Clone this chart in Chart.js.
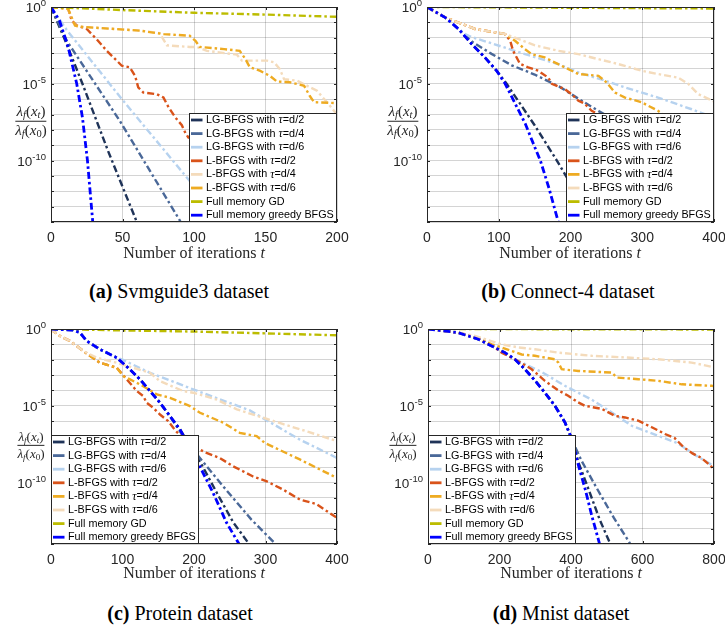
<!DOCTYPE html>
<html>
<head>
<meta charset="utf-8">
<script src="https://cdn.jsdelivr.net/npm/chart.js@4.4.1/dist/chart.umd.min.js"></script>
<style>
  html, body { margin: 0; padding: 0; background: #fff; }
  #page { position: relative; width: 725px; height: 627px; overflow: hidden; background: #fff; }
  canvas { position: absolute; }
  .txt { position: absolute; z-index: 2; transform: translate(-50%, -50%); white-space: nowrap;
         font-family: "Liberation Serif", "DejaVu Serif", serif; }
  .xt { font-size: 16px; color: #262626; }
  .cap { font-size: 20px; color: #000; }
  .frac { display: flex; flex-direction: column; align-items: center; color: #262626; line-height: 1.05; }
  .frac .num { border-bottom: 1px solid #262626; padding: 0 1px 1px; }
  .frac .den { padding: 1px 1px 0; }
  .frac sub { font-size: 0.7em; vertical-align: -0.25em; line-height: 0; }
</style>
</head>
<body>
<div id="page">
  <div class="txt frac" style="left:31px;top:121px;font-size:15px"><span class="num"><i>λ<sub>f</sub></i>(<i>x<sub>t</sub></i>)</span><span class="den"><i>λ<sub>f</sub></i>(<i>x</i><sub>0</sub>)</span></div>
  <div class="txt frac" style="left:403px;top:121px;font-size:15px"><span class="num"><i>λ<sub>f</sub></i>(<i>x<sub>t</sub></i>)</span><span class="den"><i>λ<sub>f</sub></i>(<i>x</i><sub>0</sub>)</span></div>
  <div class="txt frac" style="left:31px;top:445px;font-size:13px"><span class="num"><i>λ<sub>f</sub></i>(<i>x<sub>t</sub></i>)</span><span class="den"><i>λ<sub>f</sub></i>(<i>x</i><sub>0</sub>)</span></div>
  <div class="txt frac" style="left:403px;top:445px;font-size:13px"><span class="num"><i>λ<sub>f</sub></i>(<i>x<sub>t</sub></i>)</span><span class="den"><i>λ<sub>f</sub></i>(<i>x</i><sub>0</sub>)</span></div>

  <div class="txt xt" style="left:194px;top:253px">Number of iterations <i>t</i></div>
  <div class="txt xt" style="left:570px;top:253px">Number of iterations <i>t</i></div>
  <div class="txt xt" style="left:194px;top:573px">Number of iterations <i>t</i></div>
  <div class="txt xt" style="left:571px;top:573px">Number of iterations <i>t</i></div>

  <div class="txt cap" style="left:179px;top:291px"><b>(a)</b> Svmguide3 dataset</div>
  <div class="txt cap" style="left:568px;top:291px"><b>(b)</b> Connect-4 dataset</div>
  <div class="txt cap" style="left:180px;top:613px"><b>(c)</b> Protein dataset</div>
  <div class="txt cap" style="left:561px;top:613px"><b>(d)</b> Mnist dataset</div>
</div>

<script>
// shared axis values
const yGridValues = [1, 1e-1, 1e-2, 1e-3, 1e-4, 1e-5, 1e-6, 1e-7, 1e-8, 1e-9, 1e-10, 1e-11, 1e-12, 1e-13, 1e-14]
const yLabelValues = [1, 1e-5, 1e-10]
const yLabelExps = ['0', '-5', '-10']
const seriesLabels = [
    'LG-BFGS with τ=d/2', 'LG-BFGS with τ=d/4', 'LG-BFGS with τ=d/6',
    'L-BFGS with τ=d/2', 'L-BFGS with τ=d/4', 'L-BFGS with τ=d/6',
    'Full memory GD', 'Full memory greedy BFGS'
]

/* ---------------- (a) Svmguide3 : [iteration, ratio] ---------------- */
const svmTicks = [0, 50, 100, 150, 200]
const svmLG2 = [[0,1],[10,6.3e-3],[22,1e-5],[40,4e-10],[60,1e-14],[65,1e-15]]
const svmLG4 = [[0,1],[11,6.3e-3],[48,4e-8],[90,1.3e-14],[96,1e-15]]
const svmLG6 = [[0,1],[11,3.2e-2],[50,8.9e-7],[99,2.8e-12],[125,5e-15]]
const svmL2 = [[0,1],[12,0.79],[14.5,0.126],[18,6.3e-2],[25,3.7e-2],[32,7.9e-3],[39,1.4e-3],[46,3.2e-4],[49.5,1.5e-4],[55,1.2e-4],[58.8,3.3e-5],[61,5.8e-6],[64.6,2.7e-6],[74,2.1e-6],[78.6,1.3e-6],[82,3.2e-7],[87,6.3e-8],[91.5,2e-8],[94,6.3e-9],[96,3.2e-9],[100,2.5e-9],[130,1e-10],[200,3.2e-13]]
const svmL4 = [[0,1],[12,0.74],[16.8,6.3e-2],[20,5.2e-2],[62,2.9e-2],[76,2e-2],[81,3.2e-3],[97,2.5e-3],[102,2.5e-3],[109,1.4e-3],[130,7.9e-4],[133.5,3.2e-4],[151,3.2e-4],[156,2.5e-4],[160,9.1e-5],[163,2e-5],[172,1.6e-5],[186,3.5e-6],[193,6.3e-7],[198,1.7e-7],[201,8e-8]]
const svmL6 = [[0,1],[12,0.74],[16.8,6.3e-2],[20,5.2e-2],[62,2.9e-2],[79,1.7e-2],[97,1.35e-2],[101,6.3e-3],[104,2.5e-3],[121,1.8e-3],[132,1.4e-3],[136,4e-4],[139,1.2e-4],[146,7.1e-5],[153,3.3e-5],[158,1.4e-5],[167,1.26e-5],[177,7.4e-6],[181,1.6e-6],[184,6.3e-7],[200,5.5e-7]]
const svmGD = [[0,1],[50,0.63],[100,0.42],[150,0.32],[200,0.23]]
const svmGR = [[0,1],[6,0.126],[12,2.5e-3],[18,1e-5],[22,6.3e-8],[25.5,1e-10],[29.2,1e-14],[31,1e-16]]

/* ---------------- (b) Connect-4 ---------------- */
const conTicks = [0, 100, 200, 300, 400]
const conLG2 = [[0,1],[25,0.214],[44,3.7e-2],[62,4e-3],[81,5e-4],[97,7.1e-5],[111,1e-5],[150,2e-8],[181,1e-10],[200,3.2e-12],[250,1e-15]]
const conLG4 = [[0,1],[25,0.214],[44,3.7e-2],[64,5e-3],[90,8.9e-4],[118,1.6e-4],[150,4e-5],[185,6.3e-6],[212,1e-6],[240,1.6e-7],[270,2.5e-8],[400,1e-11]]
const conLG6 = [[0,1],[25,0.214],[44,3.7e-2],[53,1.74e-2],[62,1.12e-2],[90,4.3e-3],[136.6,8.5e-4],[183,1.9e-4],[211,5.5e-5],[248,1.6e-5],[276,5.8e-6],[322,1.26e-6],[369,2.2e-7],[387,1.05e-7],[400,6.3e-8]]
const conL2 = [[0,1],[25,0.214],[67,3.7e-2],[108.7,1.74e-2],[116,6.3e-3],[120,1.4e-3],[129.6,2e-4],[141,1.17e-4],[155,7.1e-5],[169,2.5e-5],[174,1e-5],[192,4.5e-6],[201.6,2.1e-6],[211,7.9e-7],[220,5e-7],[229.5,1.74e-7],[239,1.05e-7],[260,2.5e-8],[400,1e-11]]
const conL4 = [[0,1],[25,0.214],[67,3.7e-2],[108.7,1.74e-2],[122.7,6.3e-3],[136.6,1.8e-3],[146,8.5e-4],[164,5.2e-4],[192,1.17e-4],[211,4.3e-5],[239,3.3e-5],[250,1.26e-5],[262,2.7e-6],[276,1.26e-6],[299,6.3e-7],[322,1.74e-7],[332,7.9e-8],[400,3.2e-9]]
const conL6 = [[0,1],[25,0.214],[67,3.7e-2],[108.7,1.74e-2],[122.7,1e-2],[150.5,3.2e-3],[183,1.4e-3],[211,8.5e-4],[239,4e-4],[267,1.9e-4],[299,7.1e-5],[322,4.3e-5],[350,2.5e-5],[364,1e-5],[378,2.1e-6],[400,7.1e-7]]
const conGD = [[0,1],[200,0.89],[400,0.8]]
const conGR = [[0,1],[25,0.214],[44,3.7e-2],[62,4e-3],[81,5e-4],[97,7.1e-5],[109,1e-5],[123,5e-7],[137,2.5e-8],[150,7.9e-10],[158,1e-10],[170,1.6e-12],[183,1e-14],[190,1e-15]]

/* ---------------- (c) Protein ---------------- */
const proTicks = [0, 100, 200, 300, 400]
const proLG2 = [[0,1],[31,0.85],[40.5,0.575],[50,0.166],[68.5,4.7e-2],[92,1.35e-2],[110.5,2.3e-3],[124.5,5.2e-4],[138.5,9.1e-5],[152.4,1.58e-5],[166.4,2.1e-6],[180.4,2.9e-7],[212,1.15e-9],[232,2.1e-11],[255,2.5e-13],[277,1e-14],[285,2e-15]]
const proLG4 = [[0,1],[31,0.85],[40.5,0.575],[50,0.166],[68.5,4.7e-2],[92,1.35e-2],[110.5,2.3e-3],[124.5,5.2e-4],[138.5,9.1e-5],[152.4,1.58e-5],[166.4,2.1e-6],[185,1e-7],[203,7.9e-9],[240,6.3e-11],[280,4e-13],[314,1e-14],[322,3.2e-15]]
const proLG6 = [[0,1],[31,0.85],[40.5,0.575],[50,0.166],[68.5,4.7e-2],[92,1.35e-2],[100,1e-2],[138.5,1.4e-3],[199,1.17e-4],[278,5e-6],[300,1.26e-6],[348,6.3e-8],[400,4e-9]]
const proL2 = [[0,1],[3,0.74],[12.6,0.35],[26.6,0.166],[36,7.9e-2],[45,3.7e-2],[68.5,6.3e-3],[92,3e-3],[106,5.2e-4],[120,9.1e-5],[129,4.3e-5],[133.8,1.58e-5],[143,7.4e-6],[152.4,2.7e-6],[164,1e-6],[171,3.7e-7],[175.8,2e-7],[189.5,5e-8],[203.5,1.8e-8],[217.5,8.5e-9],[236,4e-9],[254.7,1.15e-9],[282.6,2.5e-10],[301,1.26e-10],[324.5,3.5e-11],[348,7.9e-12],[371,4e-12],[400,5e-13]]
const proL4 = [[0,1],[3,0.74],[12.6,0.35],[26.6,0.166],[36,7.9e-2],[45,3.7e-2],[68.5,6.3e-3],[92,3e-3],[101,8.5e-4],[110.5,5.2e-4],[129,1.9e-4],[148,5.5e-5],[166.4,3.3e-5],[194.4,9.5e-6],[208.4,3.5e-6],[241,7.9e-7],[264,1.74e-7],[287.6,1.05e-7],[299,3.8e-8],[348,3.2e-9],[400,2e-10]]
const proL6 = [[0,1],[3,0.74],[12.6,0.35],[26.6,0.166],[36,7.9e-2],[45,3.7e-2],[64,1.35e-2],[92,6.3e-3],[106,4e-3],[138.5,1.4e-3],[152.4,4e-4],[185,9.1e-5],[199,7.1e-5],[232,2.5e-5],[260,5.8e-6],[297,1.66e-6],[325,6.3e-7],[360,2e-7],[400,5e-8]]
const proGD = [[0,1],[100,0.81],[200,0.68],[300,0.52],[400,0.39]]
const proGR = [[0,1],[31,0.85],[40.5,0.575],[50,0.166],[68.5,4.7e-2],[92,1.35e-2],[110.5,2.3e-3],[124.5,5.2e-4],[138.5,9.1e-5],[152.4,1.58e-5],[166.4,2.1e-6],[180.4,2.9e-7],[208,1.15e-9],[226.8,2.1e-11],[245.4,2.5e-13],[263,1e-14],[270,2e-15]]

/* ---------------- (d) Mnist ---------------- */
const mniTicks = [0, 200, 400, 600, 800]
const mniLG2 = [[0,1],[85,0.575],[141,0.214],[178,7.9e-2],[215,2.9e-2],[243,1.07e-2],[271,2.4e-3],[299,4.5e-4],[327,7.1e-5],[355,1e-5],[383,8.3e-7],[403,6.3e-8],[421,2e-9],[450,3.2e-11],[480,4e-13],[510,1e-14],[520,2.5e-15]]
const mniLG4 = [[0,1],[85,0.575],[141,0.214],[178,7.9e-2],[215,2.9e-2],[243,1.07e-2],[271,2.4e-3],[299,4.5e-4],[327,7.1e-5],[355,1e-5],[383,8.3e-7],[403,6.3e-8],[410,2.5e-8],[430,2.5e-9],[468,6.3e-11],[520,5e-13],[566,1e-14],[580,2.5e-15]]
const mniLG6 = [[0,1],[85,0.575],[141,0.214],[178,7.9e-2],[215,2.9e-2],[243,1.07e-2],[318,1.58e-3],[383,2e-4],[458,2.5e-5],[514,3.7e-6],[570,5e-7],[626,1.6e-7],[700,3.5e-8],[747,6.3e-9],[800,1.15e-9]]
const mniL2 = [[0,1],[85,0.575],[141,0.251],[178,8.9e-2],[206,2.9e-2],[253,7.9e-3],[290,2.4e-3],[327,4.2e-4],[365,1e-4],[392,4.5e-5],[420,1.66e-5],[439,1e-5],[486,6.3e-6],[523,2.2e-6],[551,1.74e-6],[588,1.07e-6],[626,4e-7],[663,1.45e-7],[690,7.9e-8],[715,2e-8],[740,7.9e-9],[765,4e-9],[790,1.26e-9],[800,7.1e-10]]
const mniL4 = [[0,1],[85,0.575],[131,0.316],[178,0.1],[206,6.3e-2],[262,2.2e-2],[299,1.8e-2],[355,1.07e-2],[364.6,6.5e-3],[374,2.4e-3],[420,1.86e-3],[514,1.45e-3],[528,6.9e-4],[588,5.4e-4],[644,4.2e-4],[710,2.5e-4],[793,2e-4],[800,1.9e-4]]
const mniL6 = [[0,1],[85,0.575],[131,0.355],[206,0.1],[253,6.3e-2],[299,4.8e-2],[364.6,2.9e-2],[458,1.8e-2],[551,1.4e-2],[644,1.07e-2],[737,6.5e-3],[793,3.5e-3],[800,3.3e-3]]
const mniGD = [[0,1],[800,0.93]]
const mniGR = [[0,1],[85,0.575],[141,0.214],[178,7.9e-2],[215,2.9e-2],[243,1.07e-2],[271,2.4e-3],[299,4.5e-4],[327,7.1e-5],[355,1e-5],[383,8.3e-7],[403,6.3e-8],[421,1.26e-9],[440,3.5e-11],[458.6,6.3e-13],[480,1e-14],[490,1.6e-15]]


/* ---------------- styles ---------------- */
const NAVY = '#1f3358', STEEL = '#4a6898', SKY = '#b6d2ef', RED = '#d9531a'
const ORANGE = '#eeab22', BEIGE = '#f4dbbb', OLIVE = '#bcbc00', BLUE = '#0000ff'
const SANS = '"Liberation Sans", Arial, Helvetica, sans-serif'
const SERIF = '"Liberation Serif", "DejaVu Serif", serif'
const AXIS = '#262626'
const GRID = 'rgba(0,0,0,0.17)'

const panels = [
    { left: 0, top: 0, width: 362, yWidth: 51, padRight: 25, xMax: 200, xTicks: svmTicks, legend: 'right',
      series: [svmLG2, svmLG4, svmLG6, svmL2, svmL4, svmL6, svmGD, svmGR],
      colors: [NAVY, STEEL, SKY, RED, BEIGE, ORANGE, OLIVE, BLUE] },
    { left: 362, top: 0, width: 363, yWidth: 65, padRight: 11, xMax: 400, xTicks: conTicks, legend: 'right',
      series: [conLG2, conLG4, conLG6, conL2, conL4, conL6, conGD, conGR],
      colors: [NAVY, STEEL, SKY, RED, ORANGE, BEIGE, OLIVE, BLUE] },
    { left: 0, top: 322, width: 362, yWidth: 51, padRight: 25, xMax: 400, xTicks: proTicks, legend: 'left',
      series: [proLG2, proLG4, proLG6, proL2, proL4, proL6, proGD, proGR],
      colors: [NAVY, STEEL, SKY, RED, ORANGE, BEIGE, OLIVE, BLUE] },
    { left: 362, top: 322, width: 363, yWidth: 66, padRight: 11, xMax: 800, xTicks: mniTicks, legend: 'left',
      series: [mniLG2, mniLG4, mniLG6, mniL2, mniL4, mniL6, mniGD, mniGR],
      colors: [NAVY, STEEL, SKY, RED, ORANGE, BEIGE, OLIVE, BLUE] }
]


/* frame with inner ticks, y tick labels with exponents and a boxed legend inside the axes */
const matlabLook = {
    id: 'matlabLook',
    afterDatasetsDraw(chart, args, opts) {
        const { ctx, chartArea: a, scales } = chart
        ctx.save()

        ctx.strokeStyle = AXIS
        ctx.lineWidth = 1
        ctx.strokeRect(a.left + 0.5, a.top + 0.5, a.right - a.left - 1, a.bottom - a.top - 1)

        // little ticks pointing inwards
        ctx.beginPath()
        scales.y.ticks.forEach(t => {
            const y = Math.round(scales.y.getPixelForValue(t.value)) + 0.5
            ctx.moveTo(a.left, y); ctx.lineTo(a.left + 3, y)
            ctx.moveTo(a.right, y); ctx.lineTo(a.right - 3, y)
        })
        scales.x.ticks.forEach(t => {
            const x = Math.round(scales.x.getPixelForValue(t.value)) + 0.5
            ctx.moveTo(x, a.bottom); ctx.lineTo(x, a.bottom - 3)
            ctx.moveTo(x, a.top); ctx.lineTo(x, a.top + 3)
        })
        ctx.stroke()

        ctx.fillStyle = AXIS
        ctx.textAlign = 'left'
        ctx.textBaseline = 'alphabetic'
        yLabelValues.forEach((v, i) => {
            const y = scales.y.getPixelForValue(v)
            ctx.font = '13.5px ' + SANS
            const w10 = ctx.measureText('10').width
            ctx.font = '9.5px ' + SANS
            const we = ctx.measureText(yLabelExps[i]).width
            const x0 = a.left - 5 - we - w10
            ctx.font = '13.5px ' + SANS
            ctx.fillText('10', x0, y + 5)
            ctx.font = '9.5px ' + SANS
            ctx.fillText(yLabelExps[i], x0 + w10, y - 1)
        })

        // legend
        const ds = chart.data.datasets
        const fs = 10.8
        const parts = ds.map(d => d.label.split('τ'))
        const widthOf = (p) => {
            ctx.font = fs + 'px ' + SANS
            let w = ctx.measureText(p[0]).width
            if (p.length > 1) {
                w += ctx.measureText(p[1]).width
                ctx.font = 'italic ' + (fs + 1) + 'px ' + SERIF
                w += ctx.measureText('τ').width
            }
            return w
        }
        const textW = Math.max(...parts.map(widthOf))
        const rowH = 13.6
        const w = Math.round(17 + textW + 3)
        const h = Math.round(7 + rowH * (ds.length - 1) + 7)
        const bx = opts.side === 'left' ? a.left : a.right - w
        const by = a.bottom - h
        ctx.fillStyle = '#fff'
        ctx.fillRect(bx, by, w, h)
        ctx.strokeStyle = AXIS
        ctx.lineWidth = 1
        ctx.strokeRect(bx + 0.5, by + 0.5, w - 1, h - 1)

        ds.forEach((d, i) => {
            const cy = by + 7 + i * rowH
            ctx.strokeStyle = d.borderColor
            ctx.lineWidth = 2.8
            ctx.setLineDash([])
            ctx.beginPath()
            ctx.moveTo(bx + 2, cy)
            ctx.lineTo(bx + 13.5, cy)
            ctx.stroke()

            ctx.fillStyle = '#000'
            ctx.textBaseline = 'middle'
            let x = bx + 17
            const p = parts[i]
            ctx.font = fs + 'px ' + SANS
            ctx.fillText(p[0], x, cy)
            x += ctx.measureText(p[0]).width
            if (p.length > 1) {
                ctx.font = 'italic ' + (fs + 1) + 'px ' + SERIF
                ctx.fillText('τ', x, cy)
                x += ctx.measureText('τ').width
                ctx.font = fs + 'px ' + SANS
                ctx.fillText(p[1], x, cy)
            }
        })
        ctx.restore()
    }
}


const page = document.getElementById('page')

panels.forEach(p => {
    const canvas = document.createElement('canvas')
    canvas.width = p.width
    canvas.height = 270
    canvas.style.left = p.left + 'px'
    canvas.style.top = p.top + 'px'
    page.appendChild(canvas)

    new Chart(canvas.getContext('2d'), {
        type: 'line',
        data: {
            datasets: p.series.map((s, i) => ({
                label: seriesLabels[i],
                data: s.map(([x, y]) => ({ x, y })),
                borderColor: p.colors[i],
                borderWidth: i === 7 ? 2.8 : 2.4,
                borderDash: [7, 3, 2.5, 3],
                pointRadius: 0,
                fill: false,
                tension: 0,
                order: 7 - i
            }))
        },
        options: {
            responsive: false,
            animation: false,
            events: [],
            layout: { padding: { top: 7, right: p.padRight, left: 0, bottom: 0 } },
            plugins: {
                legend: { display: false },
                tooltip: { enabled: false },
                matlabLook: { side: p.legend }
            },
            scales: {
                x: {
                    type: 'linear',
                    min: 0,
                    max: p.xMax,
                    afterBuildTicks: (s) => { s.ticks = p.xTicks.map(v => ({ value: v })) },
                    afterFit: (s) => { s.height = 48; s.paddingLeft = 0; s.paddingRight = 0 },
                    ticks: { color: AXIS, font: { family: SANS, size: 14 }, padding: 8, maxRotation: 0, callback: v => v },
                    grid: { color: GRID, drawTicks: false },
                    border: { display: false }
                },
                y: {
                    type: 'logarithmic',
                    min: 1e-14,
                    max: 1,
                    afterBuildTicks: (s) => { s.ticks = yGridValues.map(v => ({ value: v })) },
                    afterFit: (s) => { s.width = p.yWidth },
                    ticks: { display: false },
                    grid: { color: GRID, drawTicks: false },
                    border: { display: false }
                }
            }
        },
        plugins: [matlabLook]
    })
})
</script>
</body>
</html>
